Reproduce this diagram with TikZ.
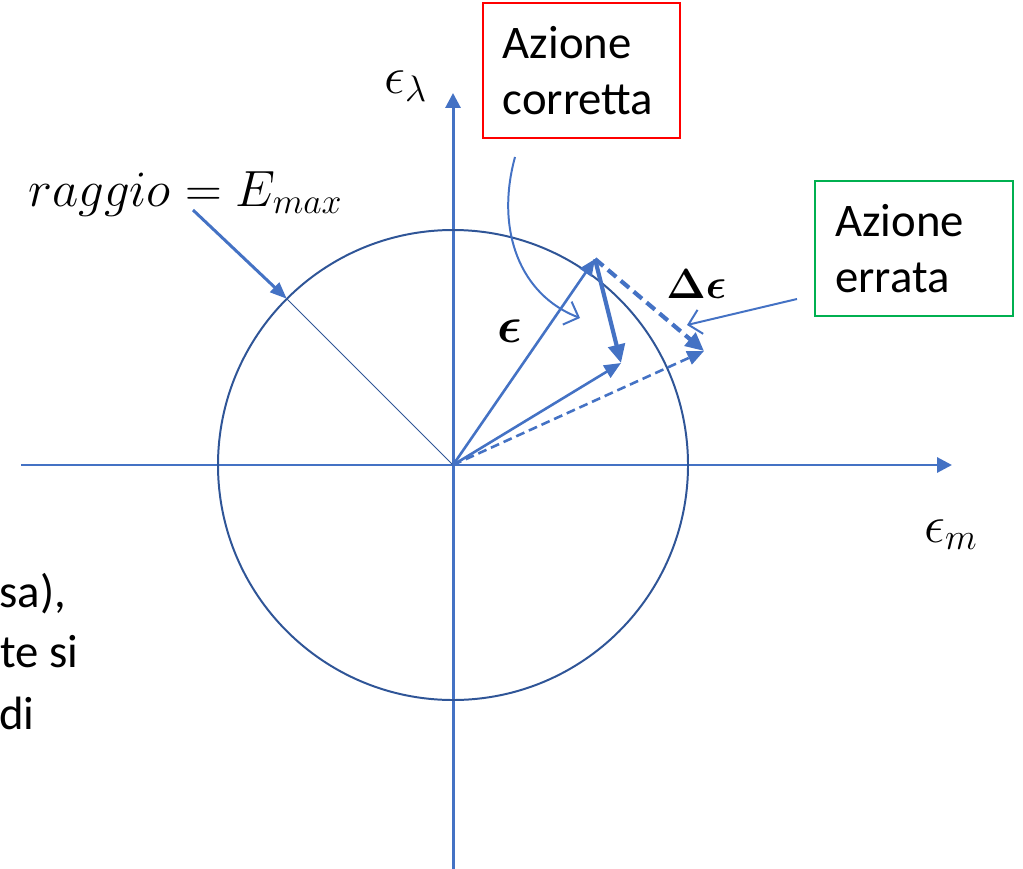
\RequirePackage{fix-cm}
\documentclass[tikz,border=0pt]{standalone}
\usepackage{amsmath,bm}
\usepackage{fontspec}
\setmainfont{Carlito}
\usetikzlibrary{arrows.meta}
\definecolor{axblue}{HTML}{4472C4}
\definecolor{circblue}{HTML}{2F5597}
\definecolor{boxgreen}{HTML}{00B050}
\begin{document}
\begin{tikzpicture}[x=0.02cm,y=-0.02cm,
  axisline/.style={draw=axblue, line width=1.7pt, -{Triangle[length=8.5pt,width=8.5pt]}},
  vecline/.style={draw=axblue, line width=1.47pt, -{Triangle[length=9.5pt,width=8pt]}},
  boldvec/.style={draw=axblue, line width=2.38pt, -{Triangle[length=10.5pt,width=9.5pt]}},
  dashvec/.style={dash pattern=on 5.1pt off 2.8pt},
  thickdash/.style={dash pattern=on 6.2pt off 3.4pt},
  openptr/.style={draw=axblue, line width=1.13pt, -{Straight Barb[length=7pt,width=14pt,line width=1.13pt]}},
  ptrline/.style={draw=axblue, line width=1.7pt, -{Triangle[length=9.6pt,width=7.4pt]}},
  box/.style={draw, line width=1.13pt, font=\fontsize{26.6pt}{32.3pt}\selectfont, align=left,
    text width=89.6pt, inner xsep=11.3pt, inner ysep=0pt, minimum height=76.5pt},
  mathlab/.style={anchor=base west, inner sep=0pt, font=\fontsize{30pt}{34pt}\selectfont},
  sidetext/.style={anchor=base west, inner sep=0pt, font=\fontsize{26.6pt}{32pt}\selectfont}]
\useasboundingbox (0,0) rectangle (1023,868);
\clip (0,0) rectangle (1023,868);
% coordinates
\coordinate (O) at (453,465);
\coordinate (xl) at (21,465);
\coordinate (xr) at (952,465);
\coordinate (yb) at (453,875);
\coordinate (yt) at (453,93);
\coordinate (R) at (286.8,298.8);
\coordinate (rs) at (193,210);
\coordinate (E) at (595,259);
\coordinate (F) at (621,363);
\coordinate (G) at (704,351);
\coordinate (cs) at (515,157);
\coordinate (ce) at (580,318);
\coordinate (es) at (797,299);
\coordinate (ee) at (687,325);
% axes
\draw[axisline] (xl) -- (xr);
\draw[axisline] (yb) -- (yt);
% circle
\draw[circblue, line width=1.13pt] (O) circle[radius=235];
\draw[circblue, line width=0.57pt] (O) -- (R);
\draw[ptrline] (rs) -- (R);
% vectors
\draw[vecline] (O) -- (E);
\draw[vecline] (O) -- (F);
\draw[vecline, dashvec] (O) -- (G);
\draw[boldvec] (E) -- (F);
\draw[boldvec, thickdash] (E) -- (G);
% pointers
\draw[openptr] (cs) .. controls (495,230) and (520,295) .. (ce);
\draw[openptr] (es) -- (ee);
% boxes
\node[box, draw=red] (corr) at (581.5,70.5) {Azione\\corretta};
\node[box, draw=boxgreen] (err) at (914,248.5) {Azione\\errata};
% labels
\node[mathlab] (lam) at (384,94) {$\epsilon_\lambda$};
\node[mathlab] (em) at (924,542) {$\epsilon_m$};
\node[mathlab, font=\fontsize{24pt}{30pt}\selectfont] (de) at (666,298) {$\boldsymbol{\Delta\epsilon}$};
\node[mathlab, font=\fontsize{29pt}{30pt}\selectfont] (ep) at (497,342) {$\boldsymbol{\epsilon}$};
\node[mathlab, font=\fontsize{29pt}{34pt}\selectfont] (rag) at (28,206) {$raggio = E_{max}$};
% side text
\node[sidetext] (t1) at (-1,607) {sa),};
\node[sidetext] (t2) at (0,667) {te si};
\node[sidetext] (t3) at (-1,729) {di};
\end{tikzpicture}
\end{document}
